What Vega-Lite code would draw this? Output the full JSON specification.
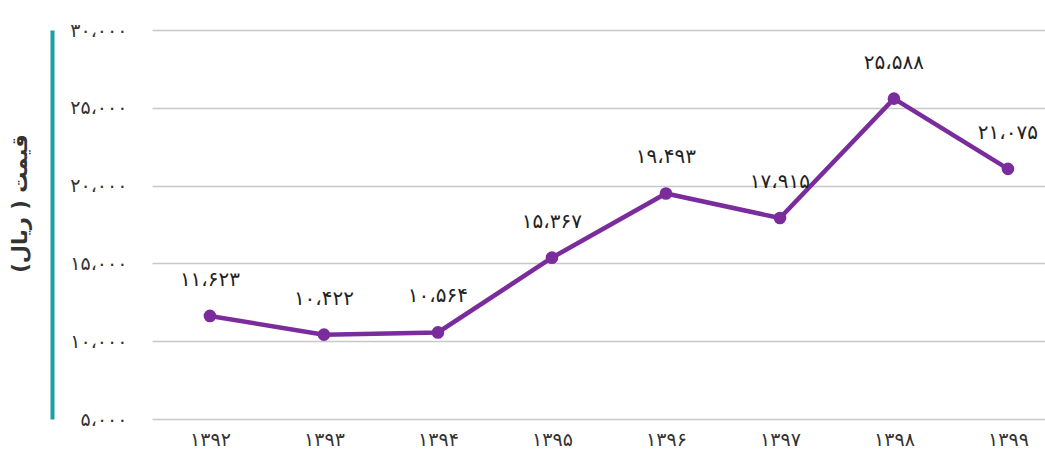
{
  "$schema": "https://vega.github.io/schema/vega-lite/v6.json",
  "width": 893,
  "height": 389,
  "autosize": {"type": "none"},
  "padding": {"left": 152, "top": 30, "right": 0, "bottom": 40},
  "background": "white",
  "config": {"view": {"stroke": null}, "font": "DejaVu Sans"},
  "data": {
    "values": [
      {"year": "۱۳۹۲", "price": 11623, "label": "۱۱،۶۲۳"},
      {"year": "۱۳۹۳", "price": 10422, "label": "۱۰،۴۲۲"},
      {"year": "۱۳۹۴", "price": 10564, "label": "۱۰،۵۶۴"},
      {"year": "۱۳۹۵", "price": 15367, "label": "۱۵،۳۶۷"},
      {"year": "۱۳۹۶", "price": 19493, "label": "۱۹،۴۹۳"},
      {"year": "۱۳۹۷", "price": 17915, "label": "۱۷،۹۱۵"},
      {"year": "۱۳۹۸", "price": 25588, "label": "۲۵،۵۸۸"},
      {"year": "۱۳۹۹", "price": 21075, "label": "۲۱،۰۷۵"}
    ]
  },
  "encoding": {
    "x": {
      "field": "year", "type": "ordinal", "sort": null,
      "scale": {"type": "point", "padding": 0.4167, "align": 0.61},
      "axis": {"title": null, "domain": false, "ticks": false, "grid": false, "labelAngle": 0,
               "labelFontSize": 19, "labelColor": "#333333", "labelPadding": 11}
    },
    "y": {
      "field": "price", "type": "quantitative",
      "scale": {"domain": [5000, 30000], "nice": false, "zero": false},
      "axis": {
        "values": [5000, 10000, 15000, 20000, 25000, 30000],
        "offset": 100,
        "domain": true, "domainColor": "#1a9fa6", "domainWidth": 4,
        "ticks": false,
        "grid": true, "gridColor": "#c8c8c8", "gridWidth": 1.5,
        "labelAlign": "right", "labelPadding": -75, "labelFontSize": 19, "labelColor": "#333333",
        "labelExpr": "datum.value == 5000 ? '۵،۰۰۰' : datum.value == 10000 ? '۱۰،۰۰۰' : datum.value == 15000 ? '۱۵،۰۰۰' : datum.value == 20000 ? '۲۰،۰۰۰' : datum.value == 25000 ? '۲۵،۰۰۰' : '۳۰،۰۰۰'",
        "title": "قیمت ( ریال)",
        "titleFontSize": 21, "titleFontWeight": "bold", "titleColor": "#333333",
        "titleX": -32, "titleY": 173, "titleAlign": "center", "titleBaseline": "middle", "titleAngle": -90
      }
    }
  },
  "layer": [
    {"mark": {"type": "line", "color": "#7a2c9c", "strokeWidth": 4.5}},
    {"mark": {"type": "point", "filled": true, "color": "#7a2c9c", "size": 160, "opacity": 1}},
    {"mark": {"type": "text", "dy": -36, "fontSize": 20, "color": "#222222"}, "encoding": {"text": {"field": "label"}}}
  ]
}
